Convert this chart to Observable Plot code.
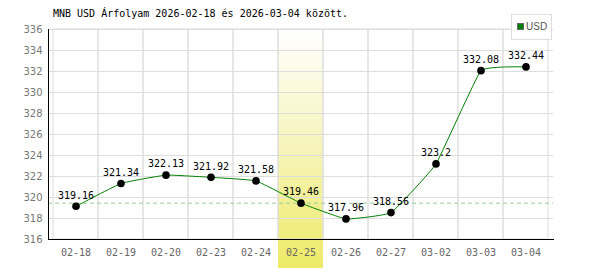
<!DOCTYPE html>
<html>
<head>
<meta charset="utf-8">
<script src="https://cdn.jsdelivr.net/npm/d3@7"></script>
<script src="https://cdn.jsdelivr.net/npm/@observablehq/plot@0.6"></script>
<style>
  body { margin: 0; background: #fff; }
  #wrap { position: relative; width: 600px; height: 270px; }
  #title { position: absolute; left: 53px; top: 8px; font: 10px "DejaVu Sans Mono", monospace; color: #000; white-space: pre; }
  #legend { position: absolute; left: 511px; top: 14px; width: 41px; height: 26px; border: 1px solid #ddd; background: #fff; box-sizing: border-box; font: 10px "Liberation Sans", sans-serif; color: #555; }
  #legend .sw { position: absolute; left: 5px; top: 8px; width: 7px; height: 7px; background: #008000; border: 1px solid #666; box-sizing: border-box; }
  #legend .lb { position: absolute; left: 14px; top: 6px; }
  #chart { position: absolute; left: 0; top: 0; }
</style>
</head>
<body>
<div id="wrap">
  <div id="chart"></div>
  <div id="title"></div>
  <div id="legend"><div class="sw"></div><div class="lb"></div></div>
</div>
<script>
const titleText = "MNB USD Árfolyam 2026-02-18 és 2026-03-04 között.";
const seriesName = "USD";
const dates = ["02-18","02-19","02-20","02-23","02-24","02-25","02-26","02-27","03-02","03-03","03-04"];
const rates = [319.16, 321.34, 322.13, 321.92, 321.58, 319.46, 317.96, 318.56, 323.2, 332.08, 332.44];
const highlightDate = "02-25";
const highlightRate = 319.46;
const yTicks = [316, 318, 320, 322, 324, 326, 328, 330, 332, 334, 336];

document.getElementById("title").textContent = titleText;
document.querySelector("#legend .lb").textContent = seriesName;

const data = dates.map((d, i) => ({date: d, rate: rates[i]}));

const chart = Plot.plot({
  width: 600,
  height: 270,
  marginTop: 29,
  marginBottom: 31,
  marginLeft: 48,
  marginRight: 47,
  style: {background: "transparent", overflow: "visible"},
  x: {type: "band", domain: dates, padding: 0, label: null},
  y: {domain: [316, 336], label: null},
  marks: [
    Plot.cell([highlightDate], {x: d => d, fill: "url(#hlgrad)", insetBottom: -29}),
    Plot.gridY(yTicks, {stroke: "#dddddd", strokeOpacity: 1}),
    Plot.cell(dates, {x: d => d, fill: "none", stroke: "#dddddd", strokeWidth: 1}),
    Plot.ruleY([highlightRate], {stroke: "#99cc99", strokeDasharray: "4,3"}),
    Plot.axisY(yTicks, {tickSize: 0, tickPadding: 6, fill: "#777", fontSize: 10, fontFamily: "DejaVu Sans", label: null}),
    Plot.axisX({tickSize: 0, tickPadding: 9, fill: "#666", fontSize: 10, fontFamily: "DejaVu Sans Mono", label: null}),
    Plot.frame({anchor: "left", stroke: "#000"}),
    Plot.frame({anchor: "bottom", stroke: "#000"}),
    Plot.line(data, {x: "date", y: "rate", stroke: "#008000", strokeWidth: 1, curve: d3.curveCardinal.tension(0.7)}),
    Plot.dot(data, {x: "date", y: "rate", r: 3.8, fill: "#000", stroke: "none"}),
    Plot.text(data, {x: "date", y: "rate", text: d => String(d.rate), dy: -11, fill: "#000", fontSize: 10, fontFamily: "DejaVu Sans Mono"})
  ]
});

const svgNS = "http://www.w3.org/2000/svg";
const defs = document.createElementNS(svgNS, "defs");
defs.innerHTML = '<linearGradient id="hlgrad" x1="0" y1="0" x2="0" y2="1">' +
  '<stop offset="0" stop-color="#ffffff"/>' +
  '<stop offset="0.45" stop-color="#f7f5c0"/>' +
  '<stop offset="1" stop-color="#eeea66"/></linearGradient>';
chart.insertBefore(defs, chart.firstChild);
document.getElementById("chart").appendChild(chart);
</script>
</body>
</html>
